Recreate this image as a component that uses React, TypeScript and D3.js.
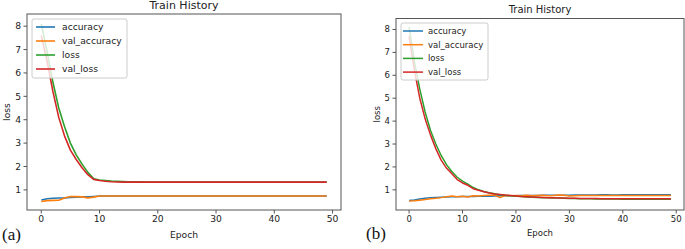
import React from "react";
import * as d3 from "d3";

const epochs = d3.range(50);
const seriesNames = ["accuracy", "val_accuracy", "loss", "val_loss"];
const seriesColors = ["#1f77b4", "#ff7f0e", "#2ca02c", "#d62728"];
const yTicks = [1, 2, 3, 4, 5, 6, 7, 8];
const xTicks = [0, 10, 20, 30, 40, 50];

// Panel (a)
const accA = [0.57, 0.62, 0.64, 0.65, 0.66, 0.68, 0.69, 0.70, 0.70, 0.72, 0.74, 0.74, 0.74, 0.74, 0.74, 0.74, 0.74, 0.74, 0.74, 0.74,
  0.74, 0.74, 0.74, 0.74, 0.74, 0.74, 0.74, 0.74, 0.74, 0.74, 0.74, 0.74, 0.74, 0.74, 0.74, 0.74, 0.74, 0.74, 0.74, 0.74,
  0.74, 0.74, 0.74, 0.74, 0.74, 0.74, 0.74, 0.74, 0.74, 0.74];
const valAccA = [0.50, 0.54, 0.55, 0.56, 0.65, 0.72, 0.71, 0.70, 0.66, 0.69, 0.74, 0.74, 0.74, 0.74, 0.74, 0.74, 0.74, 0.74, 0.74, 0.74,
  0.74, 0.74, 0.74, 0.74, 0.74, 0.74, 0.74, 0.74, 0.74, 0.74, 0.74, 0.74, 0.74, 0.74, 0.74, 0.74, 0.74, 0.74, 0.74, 0.74,
  0.74, 0.74, 0.74, 0.74, 0.74, 0.74, 0.74, 0.74, 0.74, 0.74];
const lossA = [8.1, 6.9, 5.6, 4.5, 3.7, 3.0, 2.5, 2.1, 1.75, 1.47, 1.42, 1.40, 1.38, 1.37, 1.36, 1.35, 1.35, 1.35, 1.34, 1.34,
  1.34, 1.34, 1.34, 1.34, 1.34, 1.34, 1.34, 1.34, 1.34, 1.34, 1.34, 1.34, 1.34, 1.34, 1.34, 1.34, 1.34, 1.34, 1.34, 1.34,
  1.34, 1.34, 1.34, 1.34, 1.34, 1.34, 1.34, 1.34, 1.34, 1.34];
const valLossA = [7.6, 6.5, 5.2, 4.1, 3.3, 2.7, 2.3, 1.95, 1.65, 1.45, 1.40, 1.37, 1.35, 1.34, 1.33, 1.33, 1.33, 1.33, 1.33, 1.33,
  1.33, 1.33, 1.33, 1.33, 1.33, 1.33, 1.33, 1.33, 1.33, 1.33, 1.33, 1.33, 1.33, 1.33, 1.33, 1.33, 1.33, 1.33, 1.33, 1.33,
  1.33, 1.33, 1.33, 1.33, 1.33, 1.33, 1.33, 1.33, 1.33, 1.33];

// Panel (b)
const accB = [0.53, 0.56, 0.60, 0.63, 0.65, 0.67, 0.68, 0.69, 0.70, 0.70, 0.71, 0.71, 0.71, 0.72, 0.72, 0.72, 0.73, 0.74, 0.74, 0.74,
  0.74, 0.75, 0.75, 0.75, 0.75, 0.76, 0.76, 0.76, 0.76, 0.76, 0.76, 0.77, 0.77, 0.77, 0.78, 0.78, 0.79, 0.79, 0.78, 0.78,
  0.79, 0.79, 0.79, 0.79, 0.79, 0.79, 0.79, 0.79, 0.79, 0.79];
const valAccB = [0.51, 0.52, 0.55, 0.58, 0.61, 0.63, 0.66, 0.70, 0.73, 0.70, 0.72, 0.69, 0.74, 0.73, 0.75, 0.76, 0.77, 0.66, 0.75, 0.74,
  0.75, 0.74, 0.76, 0.74, 0.75, 0.76, 0.74, 0.75, 0.78, 0.76, 0.73, 0.74, 0.75, 0.75, 0.75, 0.75, 0.75, 0.75, 0.75, 0.75,
  0.75, 0.75, 0.75, 0.75, 0.75, 0.75, 0.75, 0.75, 0.75, 0.75];
const lossB = [8.1, 6.6, 5.4, 4.4, 3.6, 3.0, 2.5, 2.1, 1.8, 1.55, 1.38, 1.25, 1.1, 1.0, 0.93, 0.87, 0.83, 0.79, 0.76, 0.74,
  0.72, 0.71, 0.69, 0.68, 0.67, 0.66, 0.65, 0.64, 0.64, 0.63, 0.62, 0.62, 0.61, 0.61, 0.61, 0.60, 0.60, 0.60, 0.60, 0.60,
  0.59, 0.59, 0.59, 0.59, 0.59, 0.59, 0.59, 0.59, 0.59, 0.59];
const valLossB = [7.7, 6.2, 5.0, 4.1, 3.4, 2.8, 2.3, 1.95, 1.7, 1.45, 1.3, 1.2, 1.05, 0.98, 0.92, 0.86, 0.82, 0.80, 0.77, 0.75,
  0.73, 0.71, 0.70, 0.69, 0.68, 0.67, 0.66, 0.65, 0.64, 0.64, 0.63, 0.63, 0.62, 0.62, 0.62, 0.62, 0.61, 0.61, 0.61, 0.61,
  0.61, 0.61, 0.61, 0.61, 0.61, 0.61, 0.61, 0.61, 0.61, 0.61];

const FONT = "'DejaVu Sans', sans-serif";

type PanelProps = {
  series: number[][];
  left: number; right: number; top: number; bottom: number;
  yDomain: [number, number];
  fs: number; titleFs: number; titleY: number;
  xLabelY: number; yLabelX: number;
  legend: { x: number; y: number; w: number; h: number; hx0: number; hx1: number; tx: number; row0: number; dy: number };
  lw: number;
};

function Panel(p: PanelProps) {
  const x = d3.scaleLinear().domain([-2.45, 51.45]).range([p.left, p.right]);
  const y = d3.scaleLinear().domain(p.yDomain).range([p.bottom, p.top]);
  const line = d3.line<number>().x((_, i) => x(epochs[i])).y((d) => y(d));
  const cx = (p.left + p.right) / 2;
  const cy = (p.top + p.bottom) / 2;
  const L = p.legend;
  return (
    <g fontFamily={FONT}>
      <text x={cx} y={p.titleY} fontSize={p.titleFs} textAnchor="middle" fill="#222">Train History</text>
      <clipPath id={`clip${p.left}`}>
        <rect x={p.left} y={p.top} width={p.right - p.left} height={p.bottom - p.top} />
      </clipPath>
      <g clipPath={`url(#clip${p.left})`}>
        {p.series.map((s, i) => (
          <path key={i} d={line(s) || ""} fill="none" stroke={seriesColors[i]} strokeWidth={p.lw} strokeLinejoin="round" />
        ))}
      </g>
      <rect x={p.left} y={p.top} width={p.right - p.left} height={p.bottom - p.top} fill="none" stroke="#555" strokeWidth={1} />
      {yTicks.map((t) => (
        <g key={t}>
          <line x1={p.left - 3.5} x2={p.left} y1={y(t)} y2={y(t)} stroke="#555" />
          <text x={p.left - 6} y={y(t)} dy="0.35em" fontSize={p.fs} textAnchor="end" fill="#222">{t}</text>
        </g>
      ))}
      {xTicks.map((t) => (
        <g key={t}>
          <line x1={x(t)} x2={x(t)} y1={p.bottom} y2={p.bottom + 3.5} stroke="#555" />
          <text x={x(t)} y={p.bottom + 5} dy="0.8em" fontSize={p.fs} textAnchor="middle" fill="#222">{t}</text>
        </g>
      ))}
      <text x={cx} y={p.xLabelY} fontSize={p.fs} textAnchor="middle" fill="#222">Epoch</text>
      <text transform={`translate(${p.yLabelX},${cy}) rotate(-90)`} fontSize={p.fs} textAnchor="middle" fill="#222">loss</text>
      <rect x={L.x} y={L.y} width={L.w} height={L.h} rx={2} fill="white" fillOpacity={0.8} stroke="#ccc" />
      {seriesNames.map((n, i) => (
        <g key={n}>
          <line x1={L.hx0} x2={L.hx1} y1={L.row0 + i * L.dy} y2={L.row0 + i * L.dy} stroke={seriesColors[i]} strokeWidth={p.lw} />
          <text x={L.tx} y={L.row0 + i * L.dy} dy="0.35em" fontSize={p.fs} fill="#222">{n}</text>
        </g>
      ))}
    </g>
  );
}

export default function App() {
  return (
    <svg width={685} height={249} style={{ position: "absolute", left: 0, top: 0 }}>
      <rect width={685} height={249} fill="white" />
      <Panel
        series={[accA, valAccA, lossA, valLossA]}
        left={27} right={341} top={14} bottom={210}
        yDomain={[0.14, 8.52]}
        fs={9.2} titleFs={11} titleY={9}
        xLabelY={238} yLabelX={10}
        legend={{ x: 32, y: 19, w: 95, h: 59, hx0: 36, hx1: 55, tx: 62, row0: 27, dy: 14 }}
        lw={1.6}
      />
      <Panel
        series={[accB, valAccB, lossB, valLossB]}
        left={396} right={684} top={18.5} bottom={210}
        yDomain={[0.12, 8.48]}
        fs={8.5} titleFs={10} titleY={13}
        xLabelY={235.5} yLabelX={380}
        legend={{ x: 401, y: 23, w: 87, h: 57, hx0: 403, hx1: 423, tx: 428, row0: 31, dy: 13.7 }}
        lw={1.5}
      />
      <text x={2} y={240} fontFamily="'Liberation Serif', 'DejaVu Serif', serif" fontSize={17} fill="#111">(a)</text>
      <text x={366} y={239} fontFamily="'Liberation Serif', 'DejaVu Serif', serif" fontSize={17} fill="#111">(b)</text>
    </svg>
  );
}
